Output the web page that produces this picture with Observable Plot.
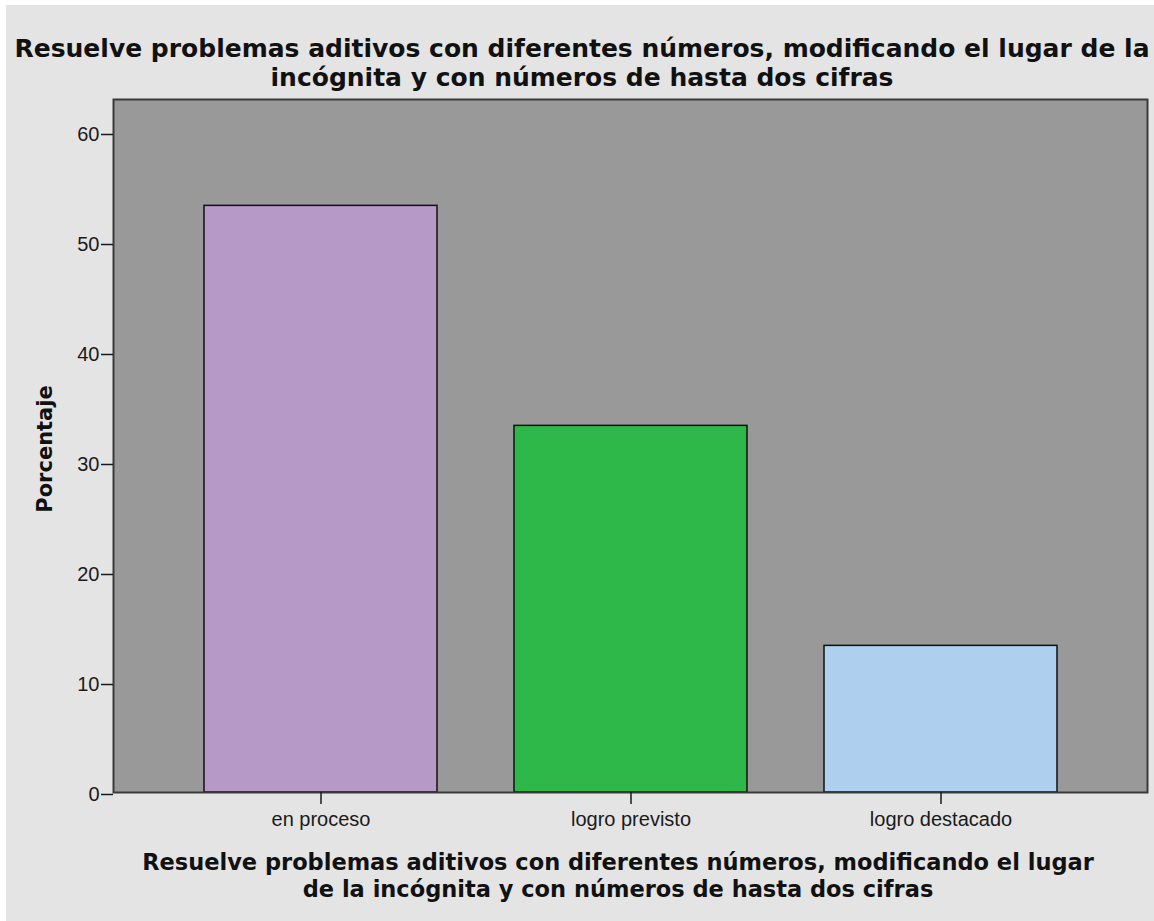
<!DOCTYPE html>
<html>
<head>
<meta charset="utf-8">
<script src="https://cdn.jsdelivr.net/npm/d3@7"></script>
<script src="https://cdn.jsdelivr.net/npm/@observablehq/plot@0.6"></script>
<style>
  html, body { margin: 0; padding: 0; background: #ffffff; }
  #page { position: absolute; left: 6px; top: 5px; width: 1148px; height: 916px; background: #e4e4e4; overflow: hidden; }
  .heading {
    position: absolute; white-space: nowrap; text-align: center;
    font-family: "DejaVu Sans", Verdana, sans-serif; font-weight: bold; color: #111;
    transform: translateX(-50%);
  }
  #title { left: 576px; top: 29px; font-size: 25px; line-height: 29px; }
  #xtitle { left: 612px; top: 844px; font-size: 22.5px; line-height: 27px; }
  #chart { position: absolute; left: 0; top: 0; }
</style>
</head>
<body>
<div id="page">
  <div id="chart"></div>
  <div id="title" class="heading">Resuelve problemas aditivos con diferentes números, modificando el lugar de la<br>incógnita y con números de hasta dos cifras</div>
  <div id="xtitle" class="heading">Resuelve problemas aditivos con diferentes números, modificando el lugar<br>de la incógnita y con números de hasta dos cifras</div>
</div>
<script>
// Achievement levels and the share of students (%) at each one
const categories = ["en proceso", "logro previsto", "logro destacado"];
const percentages = [53.33, 33.33, 13.33];
const barColors = ["#b799c8", "#2eb84a", "#aecfee"];
const yTicks = [0, 10, 20, 30, 40, 50, 60];
const yLabel = "Porcentaje";

const data = categories.map((categoria, i) => ({ categoria, porcentaje: percentages[i] }));

const chart = Plot.plot({
  width: 1148,
  height: 837,
  marginTop: 94,
  marginLeft: 107,
  marginRight: 7,
  marginBottom: 50,
  style: {
    background: "transparent",
    fontFamily: "'Liberation Sans', Arial, sans-serif",
    fontSize: "20px",
    color: "#1a1a1a"
  },
  x: { domain: categories, paddingInner: 0.25, paddingOuter: 0.29, label: null },
  y: { domain: [0, 63], label: null },
  color: { domain: categories, range: barColors },
  marks: [
    Plot.frame({ fill: "#999999", stroke: "none" }),
    Plot.barY(data, { x: "categoria", y: "porcentaje", fill: "categoria", stroke: "#111", strokeWidth: 1.5 }),
    Plot.frame({ stroke: "#3a3a3a", strokeWidth: 2 }),
    Plot.axisY({ ticks: yTicks, tickSize: 12, tickPadding: 2, dy: 2, tickFormat: d => String(d), label: null, strokeWidth: 1.5 }),
    Plot.axisX({ tickSize: 12, tickPadding: 7, label: null, strokeWidth: 1.5 }),
    Plot.text([yLabel], {
      frameAnchor: "left", dx: -68, dy: 3, rotate: -90, textAnchor: "middle",
      fontSize: 21, fontWeight: "bold", fontFamily: "'DejaVu Sans', Verdana, sans-serif", fill: "#111"
    })
  ]
});

document.getElementById("chart").appendChild(chart);
</script>
</body>
</html>
